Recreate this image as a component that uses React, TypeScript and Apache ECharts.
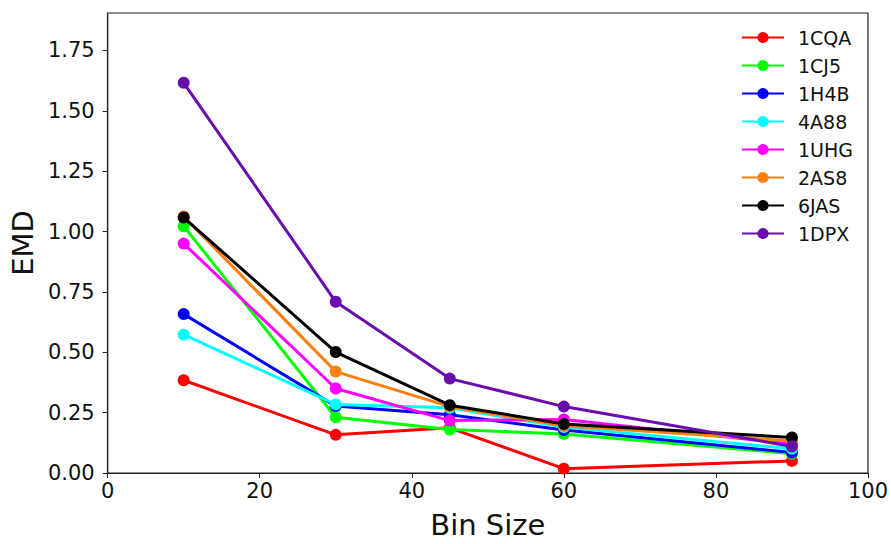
import React, { useEffect, useRef } from "react";
import * as echarts from "echarts";

const binSizes = [10, 30, 45, 60, 90];
const seriesNames = ["1CQA", "1CJ5", "1H4B", "4A88", "1UHG", "2AS8", "6JAS", "1DPX"];
const s1CQA = [0.384, 0.158, 0.187, 0.018, 0.05];
const s1CJ5 = [1.022, 0.231, 0.18, 0.162, 0.08];
const s1H4B = [0.658, 0.277, 0.241, 0.178, 0.085];
const s4A88 = [0.573, 0.284, 0.27, 0.19, 0.1];
const s1UHG = [0.95, 0.35, 0.217, 0.222, 0.12];
const s2AS8 = [1.062, 0.42, 0.275, 0.196, 0.133];
const s6JAS = [1.058, 0.501, 0.281, 0.203, 0.147];
const s1DPX = [1.616, 0.709, 0.391, 0.275, 0.11];
const allValues = [s1CQA, s1CJ5, s1H4B, s4A88, s1UHG, s2AS8, s6JAS, s1DPX];
const colors = ["#ff0000", "#00ff00", "#0000ff", "#00ffff", "#ff00ff", "#ff7f0e", "#000000", "#6a0dad"];
const yTicks = [0, 0.25, 0.5, 0.75, 1.0, 1.25, 1.5, 1.75];
const xTicks = [0, 20, 40, 60, 80, 100];

const FONT = "DejaVu Sans";

export default function App() {
  const ref = useRef<HTMLDivElement>(null);
  useEffect(() => {
    if (!ref.current) return;
    const chart = echarts.init(ref.current, undefined, { renderer: "svg" });
    chart.setOption({
      animation: false,
      backgroundColor: "#ffffff",
      grid: {
        left: 103,
        right: 22,
        top: 13,
        bottom: 62,
        show: true,
        borderColor: "#222222",
        borderWidth: 1.2,
        backgroundColor: "transparent",
      },
      legend: {
        orient: "vertical",
        left: 736,
        top: 23,
        itemWidth: 42,
        itemHeight: 14,
        itemGap: 9,
        textStyle: { fontFamily: FONT, fontSize: 19, color: "#111", padding: [0, 0, 0, 9] },
        data: seriesNames,
      },
      xAxis: {
        type: "value",
        min: 0,
        max: 100,
        interval: 20,
        name: "Bin Size",
        nameLocation: "middle",
        nameGap: 37,
        nameTextStyle: { fontFamily: FONT, fontSize: 29, color: "#111" },
        axisLine: { show: true, onZero: false, lineStyle: { color: "#222", width: 1.2 } },
        axisTick: { show: true, inside: false, length: 5, lineStyle: { color: "#222" }, customValues: xTicks },
        axisLabel: { fontFamily: FONT, fontSize: 21, color: "#111", margin: 7, customValues: xTicks },
        splitLine: { show: false },
      },
      yAxis: {
        type: "value",
        min: 0,
        max: 1.905,
        name: "EMD",
        nameLocation: "middle",
        nameGap: 61,
        nameRotate: 90,
        nameTextStyle: { fontFamily: FONT, fontSize: 29, color: "#111" },
        axisLine: { show: true, lineStyle: { color: "#222", width: 1.2 } },
        axisTick: { show: true, inside: false, length: 5, lineStyle: { color: "#222" }, customValues: yTicks },
        axisLabel: {
          fontFamily: FONT,
          fontSize: 21,
          color: "#111",
          margin: 13,
          customValues: yTicks,
          formatter: (v: number) => v.toFixed(2),
        },
        splitLine: { show: false },
      },
      series: seriesNames.map((name, i) => ({
        name,
        type: "line",
        data: binSizes.map((x, j) => [x, allValues[i][j]]),
        color: colors[i],
        symbol: "circle",
        symbolSize: 12,
        lineStyle: { width: 3, color: colors[i] },
        itemStyle: { color: colors[i] },
        emphasis: { disabled: true },
        z: 2 + i,
      })),
    });
    return () => chart.dispose();
  }, []);
  return (
    <div
      ref={ref}
      style={{ position: "absolute", left: 0, top: 0, width: 891, height: 544 }}
    />
  );
}
